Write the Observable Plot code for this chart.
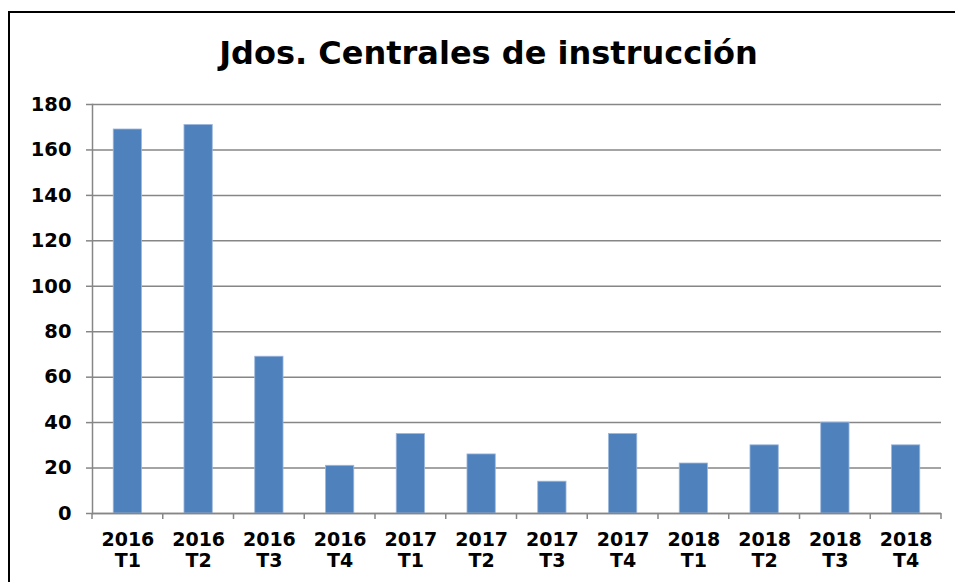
<!DOCTYPE html>
<html>
<head>
<meta charset="utf-8">
<script src="https://cdn.jsdelivr.net/npm/d3@7"></script>
<script src="https://cdn.jsdelivr.net/npm/@observablehq/plot@0.6"></script>
<style>
  html, body { margin: 0; padding: 0; background: #fff; overflow: hidden; }
  body { width: 955px; height: 582px; position: relative; font-family: "DejaVu Sans", Verdana, sans-serif; }
  #frame { position: absolute; left: 8px; top: 11px; width: 970px; height: 600px; border: 2px solid #000; box-sizing: border-box; }
  #title { position: absolute; left: 0; width: 977px; top: 33px; text-align: center; font-weight: bold; font-size: 32px; line-height: 40px; color: #000; white-space: nowrap; }
  #chart { position: absolute; left: 0; top: 0; }
</style>
</head>
<body>
<div id="frame"></div>
<div id="title">Jdos. Centrales de instrucción</div>
<div id="chart"></div>
<script>
const years = ["2016","2016","2016","2016","2017","2017","2017","2017","2018","2018","2018","2018"];
const quarters = ["T1","T2","T3","T4","T1","T2","T3","T4","T1","T2","T3","T4"];
const values = [169, 171, 69, 21, 35, 26, 14, 35, 22, 30, 40, 30];
const yTicks = [0, 20, 40, 60, 80, 100, 120, 140, 160, 180];

const categories = years.map((y, i) => y + "\n" + quarters[i]);
const data = categories.map((c, i) => ({cat: c, value: values[i]}));

const gridColor = "#868686";

const boundaryTicks = (index, scales, vals, dims) => {
  const x = scales.x, y = scales.y;
  const step = x.step ? x.step() : (dims.width - dims.marginLeft - dims.marginRight) / categories.length;
  const bw = x.bandwidth ? x.bandwidth() : 0;
  const y0 = y(0);
  const g = d3.create("svg:g").attr("stroke", gridColor).attr("stroke-width", 1.5);
  const starts = categories.map(c => x(c) + bw / 2 - step / 2);
  starts.push(x(categories[categories.length - 1]) + bw / 2 + step / 2);
  for (const sx of starts) {
    g.append("line").attr("x1", sx).attr("x2", sx).attr("y1", y0).attr("y2", y0 + 6);
  }
  return g.node();
};

const chart = Plot.plot({
  width: 955,
  height: 582,
  marginLeft: 92,
  marginRight: 14,
  marginTop: 104,
  marginBottom: 69,
  style: { fontFamily: "'DejaVu Sans', Verdana, sans-serif", background: "transparent", overflow: "visible" },
  x: { domain: categories, paddingInner: 0.6, paddingOuter: 0.3, round: false, label: null },
  y: { domain: [0, 180], label: null },
  marks: [
    Plot.gridY(yTicks, { stroke: gridColor, strokeOpacity: 1, strokeWidth: 1.5 }),
    Plot.barY(data, { x: "cat", y: "value", fill: "#4F81BD", stroke: "#9DB8DC", strokeWidth: 0.8 }),
    Plot.axisY(yTicks, { tickSize: 6, tickPadding: 15, stroke: gridColor, strokeWidth: 1.5, fontSize: 19.5, fontWeight: "bold", fill: "#000", label: null }),
    Plot.axisX({ tickSize: 0, tickPadding: 18, fontSize: 19, fontWeight: "bold", fill: "#000", lineHeight: 1.1, label: null }),
    Plot.ruleY([0], { stroke: gridColor, strokeWidth: 1.5 }),
    Plot.frame({ anchor: "left", stroke: gridColor, strokeWidth: 1.5 }),
    boundaryTicks
  ]
});
document.getElementById("chart").appendChild(chart);
</script>
</body>
</html>
